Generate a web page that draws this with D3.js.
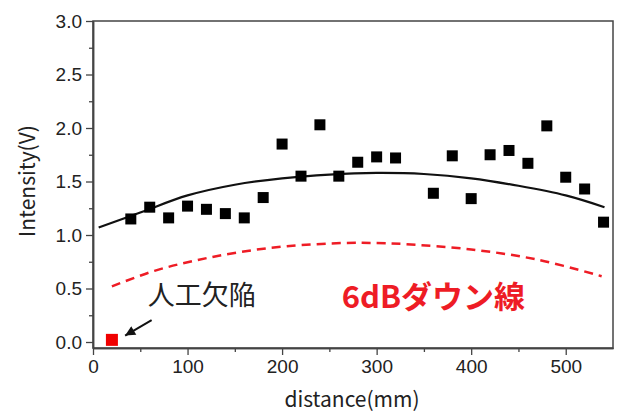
<!DOCTYPE html>
<html>
<head>
<meta charset="utf-8">
<script src="https://cdn.jsdelivr.net/npm/d3@7"></script>
<style>
body { margin: 0; background: #fff; }
text { font-family: "Noto Sans CJK JP", "Liberation Sans", sans-serif; }
</style>
</head>
<body>
<svg id="svg" width="618" height="416"></svg>
<script>
const width = 618;
const height = 416;
const axisColor = '#444';
const downColor = '#ee1c25';

const paddings = {
	left: 93,
	top: 21,
	right: 5,
	bottom: 68
};

// measured squares
const distances = [40, 60, 80, 100, 120, 140, 160, 180, 200, 220, 240, 260, 280, 300, 320,
	360, 380, 400, 420, 440, 460, 480, 500, 520, 540];
const intensities = [1.15, 1.26, 1.16, 1.27, 1.24, 1.20, 1.16, 1.35, 1.85, 1.55, 2.03, 1.55, 1.68, 1.73, 1.72,
	1.39, 1.74, 1.34, 1.75, 1.79, 1.67, 2.02, 1.54, 1.43, 1.12];

// artificial defect
const defectX = [20];
const defectY = [0.02];

// fitted curve
const fitX = [6, 50, 100, 150, 200, 250, 300, 350, 400, 450, 500, 541];
const fitY = [1.07, 1.21, 1.37, 1.47, 1.53, 1.565, 1.58, 1.57, 1.53, 1.46, 1.37, 1.26];

// 6dB down line
const downX = [20, 65, 110, 155, 205, 265, 300, 330, 400, 470, 538];
const downY = [0.52, 0.665, 0.765, 0.84, 0.895, 0.925, 0.925, 0.915, 0.865, 0.77, 0.615];

const xTicks = [0, 100, 200, 300, 400, 500];
const xMinor = [50, 150, 250, 350, 450];
const yTicks = [0, 0.5, 1.0, 1.5, 2.0, 2.5, 3.0];
const yMinor = [0.25, 0.75, 1.25, 1.75, 2.25, 2.75];

const svg = d3.select('#svg');

const xScale = d3.scaleLinear()
	.domain([0, 550])
	.range([paddings.left, width - paddings.right]);

const yScale = d3.scaleLinear()
	.domain([-0.056, 3.0])
	.range([height - paddings.bottom, paddings.top]);

const bottomY = height - paddings.bottom;

// frame
svg.append('rect')
	.attr('x', paddings.left)
	.attr('y', paddings.top)
	.attr('width', width - paddings.right - paddings.left)
	.attr('height', bottomY - paddings.top)
	.attr('fill', 'none')
	.attr('stroke', axisColor)
	.attr('stroke-width', 1.5);

// axes
const xAxis = d3.axisBottom(xScale).tickValues(xTicks).tickSize(7).tickPadding(5).tickSizeOuter(0);
const xAxisMinor = d3.axisBottom(xScale).tickValues(xMinor).tickSize(4).tickFormat('').tickSizeOuter(0);
const yAxis = d3.axisLeft(yScale).tickValues(yTicks).tickSize(7).tickPadding(4).tickSizeOuter(0)
	.tickFormat(d3.format('.1f'));
const yAxisMinor = d3.axisLeft(yScale).tickValues(yMinor).tickSize(4).tickFormat('').tickSizeOuter(0);

svg.append('g')
	.attr('transform', 'translate(0,' + bottomY + ')')
	.call(xAxis);
svg.append('g')
	.attr('transform', 'translate(0,' + bottomY + ')')
	.call(xAxisMinor);

svg.append('g')
	.attr('transform', 'translate(' + paddings.left + ',0)')
	.call(yAxis);
svg.append('g')
	.attr('transform', 'translate(' + paddings.left + ',0)')
	.call(yAxisMinor);

svg.selectAll('.domain').attr('stroke', axisColor).attr('stroke-width', 1.5);
svg.selectAll('.tick line').attr('stroke', axisColor).attr('stroke-width', 1.3);
svg.selectAll('.tick text')
	.attr('fill', '#222')
	.style('font-size', '19px')
	.style('font-family', '"Liberation Sans", sans-serif');

// axis titles
svg.append('text')
	.attr('x', 352)
	.attr('y', 407)
	.attr('text-anchor', 'middle')
	.attr('fill', '#222')
	.style('font-size', '21px')
	.text('distance(mm)');

svg.append('text')
	.attr('transform', 'translate(35,' + 181 + ') rotate(-90)')
	.attr('text-anchor', 'middle')
	.attr('fill', '#222')
	.style('font-size', '21px')
	.text('Intensity(V)');

// lines
const line = d3.line()
	.x(d => xScale(d[0]))
	.y(d => yScale(d[1]))
	.curve(d3.curveCatmullRom);

svg.append('path')
	.datum(d3.zip(fitX, fitY))
	.attr('d', line)
	.attr('fill', 'none')
	.attr('stroke', '#111')
	.attr('stroke-width', 2.2);

svg.append('path')
	.datum(d3.zip(downX, downY))
	.attr('d', line)
	.attr('fill', 'none')
	.attr('stroke', downColor)
	.attr('stroke-width', 2.5)
	.attr('stroke-dasharray', '9,6');

// squares
const size = 11;
svg.selectAll(null)
	.data(d3.zip(distances, intensities))
	.enter()
	.append('rect')
	.attr('x', d => xScale(d[0]) - size / 2)
	.attr('y', d => yScale(d[1]) - size / 2)
	.attr('width', size)
	.attr('height', size)
	.attr('fill', '#000');

svg.selectAll(null)
	.data(d3.zip(defectX, defectY))
	.enter()
	.append('rect')
	.attr('x', d => xScale(d[0]) - 6)
	.attr('y', d => yScale(d[1]) - 6)
	.attr('width', 12)
	.attr('height', 12)
	.attr('fill', '#f00000');

// annotations
svg.append('defs').append('marker')
	.attr('id', 'arrow')
	.attr('viewBox', '0 0 10 10')
	.attr('refX', 10)
	.attr('refY', 5)
	.attr('markerWidth', 12)
	.attr('markerHeight', 10)
	.attr('markerUnits', 'userSpaceOnUse')
	.attr('orient', 'auto')
	.append('path')
	.attr('d', 'M0,0L10,5L0,10Z')
	.attr('fill', '#111');

svg.append('line')
	.attr('x1', xScale(62))
	.attr('y1', yScale(0.205))
	.attr('x2', xScale(34))
	.attr('y2', yScale(0.06))
	.attr('stroke', '#111')
	.attr('stroke-width', 2)
	.attr('marker-end', 'url(#arrow)');

svg.append('text')
	.attr('x', xScale(58))
	.attr('y', yScale(0.345))
	.attr('fill', '#222')
	.style('font-size', '27px')
	.text('人工欠陥');

svg.append('text')
	.attr('x', xScale(263))
	.attr('y', yScale(0.32))
	.attr('fill', downColor)
	.style('font-size', '31px')
	.style('font-weight', 'bold')
	.text('6dBダウン線');
</script>
</body>
</html>
